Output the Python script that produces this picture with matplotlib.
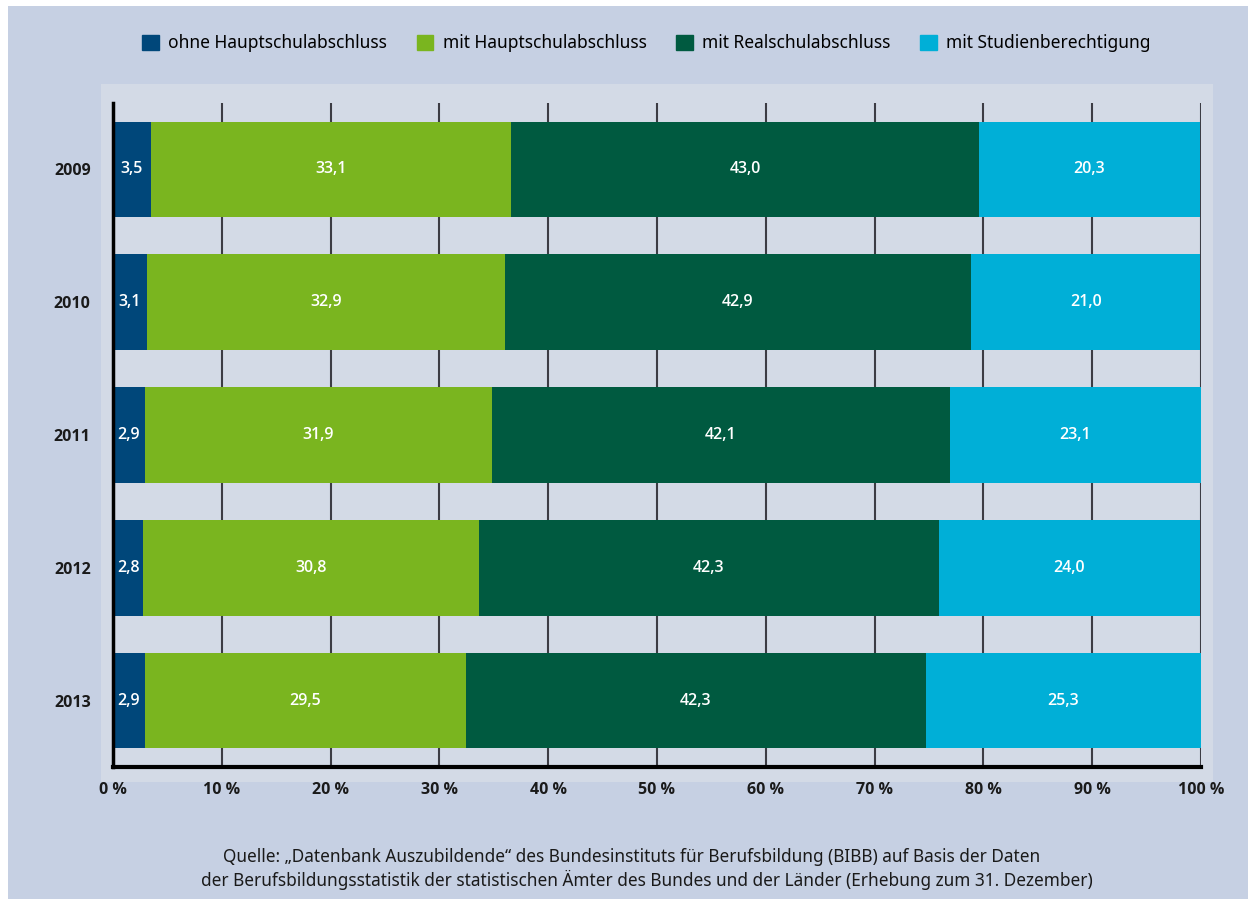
import matplotlib.pyplot as plt
import matplotlib.patches as mpatches
import numpy as np

years = ['2009', '2010', '2011', '2012', '2013']
ohne_hs = [3.5, 3.1, 2.9, 2.8, 2.9]
mit_hs = [33.1, 32.9, 31.9, 30.8, 29.5]
mit_rs = [43.0, 42.9, 42.1, 42.3, 42.3]
mit_studium = [20.3, 21.0, 23.1, 24.0, 25.3]

series_names = ['ohne Hauptschulabschluss', 'mit Hauptschulabschluss',
                'mit Realschulabschluss', 'mit Studienberechtigung']
colors = ['#00477a', '#7ab51f', '#005a40', '#00afd7']
tick_labels = ['0 %', '10 %', '20 %', '30 %', '40 %', '50 %',
               '60 %', '70 %', '80 %', '90 %', '100 %']

plt.rcParams['font.family'] = ['Noto Sans', 'DejaVu Sans']
bold_font = ['Open Sans', 'DejaVu Sans']

W, H = 1248, 899
fig = plt.figure(figsize=(W / 100, H / 100), dpi=100, facecolor='white')

# outer background and lighter plot panel
fig.patches.append(mpatches.Rectangle((8 / W, 0), 1 - 8 / W, 1 - 6 / H,
                                      transform=fig.transFigure,
                                      facecolor='#c6d0e3', edgecolor='none', zorder=-2))
fig.patches.append(mpatches.Rectangle((101 / W, 1 - 782 / H), 1112 / W, 698 / H,
                                      transform=fig.transFigure,
                                      facecolor='#d3dae6', edgecolor='none', zorder=-1))

ax = fig.add_axes([113 / W, 1 - 767 / H, 1088 / W, 664 / H])
ax.set_facecolor('none')

y = np.arange(len(years))
data = [ohne_hs, mit_hs, mit_rs, mit_studium]
left = np.zeros(len(years))
for vals, col, name in zip(data, colors, series_names):
    bars = ax.barh(y, vals, left=left, height=0.72, color=col, label=name, zorder=3)
    for b, v in zip(bars, vals):
        ax.text(b.get_x() + b.get_width() / 2, b.get_y() + b.get_height() / 2,
                f'{v:.1f}'.replace('.', ','), ha='center', va='center',
                color='white', fontsize=11.5, fontweight='semibold',
                family=bold_font, zorder=4)
    left += np.array(vals)

ax.set_xlim(0, 100)
ax.set_ylim(len(years) - 0.5, -0.5)
ax.set_xticks(np.arange(0, 101, 10))
ax.set_xticklabels(tick_labels, fontsize=11.5, fontweight='bold', family=bold_font)
ax.set_yticks(y)
ax.set_yticklabels(years, fontsize=11.5, fontweight='bold', family=bold_font)
ax.tick_params(axis='both', length=0, pad=11, colors='#1a1a1a')
ax.tick_params(axis='y', pad=16)

for xv in range(10, 101, 10):
    ax.axvline(xv, color='#3c3c44', lw=1.5, zorder=1)

for s in ['top', 'right']:
    ax.spines[s].set_visible(False)
ax.spines['left'].set_linewidth(2.5)
ax.spines['bottom'].set_linewidth(3)
ax.spines['left'].set_color('black')
ax.spines['bottom'].set_color('black')
ax.spines['left'].set_zorder(5)

handles = [mpatches.Patch(color=c) for c in colors]
fig.legend(handles, series_names, loc='center', bbox_to_anchor=(0.518, 1 - 43 / H),
           ncol=4, frameon=False, fontsize=12.5, handlelength=0.95, handleheight=0.95,
           handletextpad=0.55, columnspacing=1.7)

src_font = ['Liberation Sans Narrow', 'Noto Sans']
fig.text(0.506, 1 - 857 / H,
         'Quelle: \u201eDatenbank Auszubildende\u201c des Bundesinstituts f\u00fcr Berufsbildung (BIBB) auf Basis der Daten',
         ha='center', va='center', fontsize=12.4, color='#1a1a1a', family=src_font)
fig.text(0.518, 1 - 880 / H,
         'der Berufsbildungsstatistik der statistischen \u00c4mter des Bundes und der L\u00e4nder (Erhebung zum 31. Dezember)',
         ha='center', va='center', fontsize=12.4, color='#1a1a1a', family=src_font)

fig.savefig('out.png', dpi=100, facecolor=fig.get_facecolor())
